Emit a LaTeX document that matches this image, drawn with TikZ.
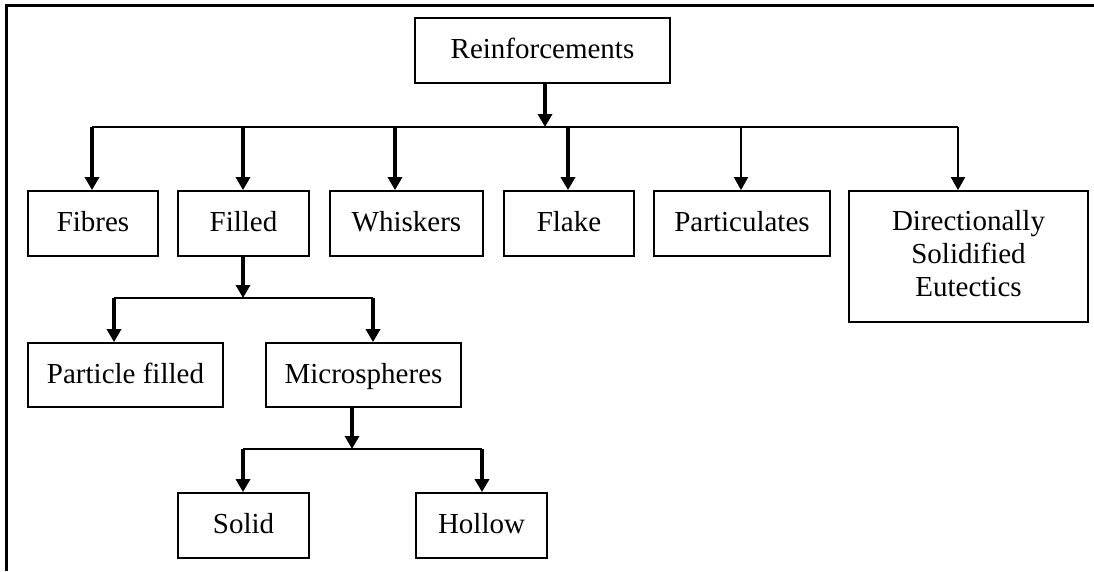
\documentclass[tikz,border=0pt]{standalone}
\usepackage{fontspec}
\setmainfont{Liberation Serif}
\usetikzlibrary{arrows.meta}
\begin{document}
\begin{tikzpicture}[x=1pt,y=-1pt,
  box/.style={draw=black,line width=1.8pt,rectangle,inner sep=0pt,align=center,
    font=\fontsize{29}{33}\selectfont},
  one/.style={box,text height=22pt,text depth=6pt},
  thk/.style={line width=3.8pt,-{Triangle[length=13pt,width=14pt]}},
  thn/.style={line width=2pt,-{Triangle[length=13pt,width=14pt]}},
  barline/.style={line width=2pt}]
\useasboundingbox (0,0) rectangle (1094,571);
\draw[line width=2.5pt] (6.5,571) -- (6.5,5.5) -- (1094,5.5);
% nodes
\node[one,minimum width=255pt,minimum height=65pt] (R) at (542.5,50.5) {Reinforcements};
\node[one,minimum width=130pt,minimum height=65pt] (fib) at (93,223.5) {Fibres};
\node[one,minimum width=131pt,minimum height=65pt] (fil) at (243.5,223.5) {Filled};
\node[one,minimum width=153pt,minimum height=65pt] (whi) at (406.5,223.5) {Whiskers};
\node[one,minimum width=130pt,minimum height=65pt] (fla) at (569,223.5) {Flake};
\node[one,minimum width=176pt,minimum height=65pt] (par) at (742,223.5) {Particulates};
\node[box,minimum width=239pt,minimum height=131pt,inner ysep=0pt] (dse) at (968.5,256.5) {Directionally\\Solidified\\Eutectics\rule{0pt}{0pt}\vspace{6pt}};
\node[one,minimum width=195pt,minimum height=64pt] (pf) at (125.5,375) {Particle filled};
\node[one,minimum width=195pt,minimum height=64pt] (mic) at (363.5,375) {Microspheres};
\node[one,minimum width=131pt,minimum height=65pt] (sol) at (243.5,525.5) {Solid};
\node[one,minimum width=131pt,minimum height=65pt] (hol) at (481.5,525.5) {Hollow};
% first level
\coordinate (b1) at (545,127);
\coordinate (tFib) at (92,127);
\coordinate (tFil) at (243,127);
\coordinate (tWhi) at (395,127);
\coordinate (tFla) at (568,127);
\coordinate (tPar) at (741,127);
\coordinate (tDse) at (958,127);
\draw[barline] (tFib) -- (tDse);
\draw[thk] (b1 |- R.south) -- (b1);
\draw[thk] (tFib) -- (tFib |- fib.north);
\draw[thk] (tFil) -- (tFil |- fil.north);
\draw[thk] (tWhi) -- (tWhi |- whi.north);
\draw[thk] (tFla) -- (tFla |- fla.north);
\draw[thn] (tPar) -- (tPar |- par.north);
\draw[thn] (tDse) -- (tDse |- dse.north);
% filled branch
\coordinate (b2) at (243,298);
\coordinate (tPf) at (114,298);
\coordinate (tMic) at (373,298);
\draw[barline] (tPf) -- (tMic);
\draw[thk] (b2 |- fil.south) -- (b2);
\draw[thk] (tPf) -- (tPf |- pf.north);
\draw[thk] (tMic) -- (tMic |- mic.north);
% microspheres branch
\coordinate (b3) at (352,449);
\coordinate (tSol) at (243,449);
\coordinate (tHol) at (482,449);
\draw[barline] (tSol) -- (tHol);
\draw[thk] (b3 |- mic.south) -- (b3);
\draw[thk] (tSol) -- (tSol |- sol.north);
\draw[thk] (tHol) -- (tHol |- hol.north);
\end{tikzpicture}
\end{document}
